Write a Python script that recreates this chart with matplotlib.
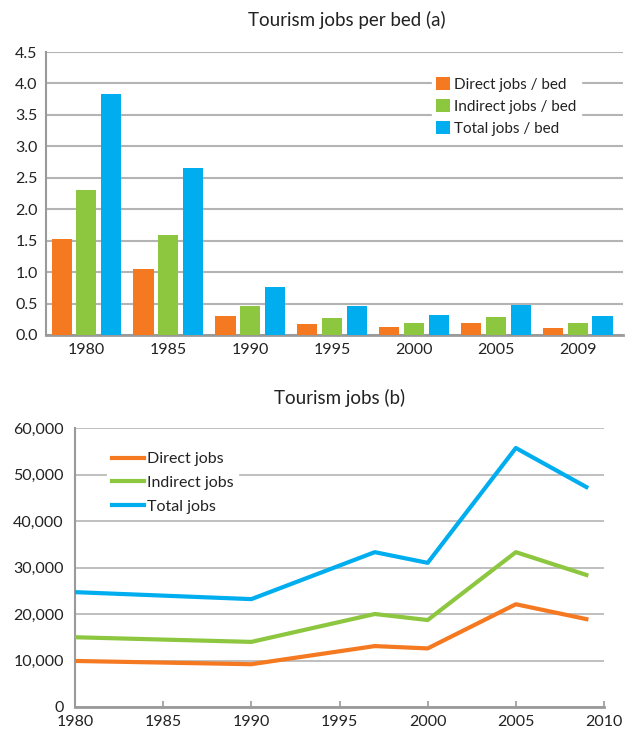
import matplotlib.pyplot as plt
import numpy as np

plt.rcParams['font.family'] = ['Lato', 'DejaVu Sans']

# ___data___
bar_years = ['1980', '1985', '1990', '1995', '2000', '2005', '2009']
direct_per_bed = [1.53, 1.05, 0.30, 0.17, 0.13, 0.19, 0.11]
indirect_per_bed = [2.31, 1.59, 0.46, 0.27, 0.19, 0.29, 0.19]
total_per_bed = [3.83, 2.65, 0.76, 0.46, 0.32, 0.48, 0.30]

line_years = [1980, 1990, 1997, 2000, 2005, 2009]
direct_jobs = [9900, 9200, 13100, 12600, 22100, 18900]
indirect_jobs = [15000, 14000, 20000, 18700, 33300, 28400]
total_jobs = [24700, 23200, 33300, 31000, 55700, 47300]

orange = '#F47920'
green = '#8DC63F'
blue = '#00AEEF'
grid_col = '#b4b4b4'
axis_col = '#9a9a9a'
text_col = '#222222'

fig = plt.figure(figsize=(6.35, 7.34), dpi=100)

# ___chart (a)___
ax1 = fig.add_axes([46/635, 1-335/734, 577/635, 283/734])
x = np.arange(len(bar_years))
w = 0.245
pitch = 0.3
ax1.bar(x - pitch, direct_per_bed, w, color=orange, label='Direct jobs / bed', zorder=3)
ax1.bar(x, indirect_per_bed, w, color=green, label='Indirect jobs / bed', zorder=3)
ax1.bar(x + pitch, total_per_bed, w, color=blue, label='Total jobs / bed', zorder=3)
ax1.set_xlim(-0.49, 6.55)
ax1.set_ylim(0, 4.5)
ax1.set_yticks(np.arange(0, 4.51, 0.5))
ax1.set_yticklabels(['%.1f' % v for v in np.arange(0, 4.51, 0.5)])
ax1.set_xticks(x)
ax1.set_xticklabels(bar_years)
ax1.yaxis.grid(True, color=grid_col, linewidth=1.5, zorder=0)
ax1.set_axisbelow(True)
for s in ['top', 'right']:
    ax1.spines[s].set_visible(False)
ax1.spines['left'].set_color(axis_col)
ax1.spines['left'].set_linewidth(1.5)
ax1.spines['bottom'].set_color(axis_col)
ax1.spines['bottom'].set_linewidth(2)
ax1.tick_params(axis='both', length=0, labelsize=11.5, colors=text_col, pad=6)
leg1 = ax1.legend(loc='upper left', bbox_to_anchor=(0.655, 0.955), frameon=True,
                  fontsize=11, handlelength=0.9, handleheight=0.9,
                  handletextpad=0.3, labelspacing=0.5, borderpad=0.3)
leg1.get_frame().set_facecolor('white')
leg1.get_frame().set_edgecolor('white')
leg1.get_frame().set_alpha(1)
for t in leg1.get_texts():
    t.set_color(text_col)
fig.text(347/635, 1-20/734, 'Tourism jobs per bed (a)', ha='center', va='center',
         fontsize=13.5, color=text_col)

# ___chart (b)___
ax2 = fig.add_axes([75/635, 1-707/734, 529/635, 279/734])
ax2.plot(line_years, direct_jobs, color=orange, linewidth=3, label='Direct jobs', zorder=3)
ax2.plot(line_years, indirect_jobs, color=green, linewidth=3, label='Indirect jobs', zorder=3)
ax2.plot(line_years, total_jobs, color=blue, linewidth=3, label='Total jobs', zorder=3)
ax2.set_xlim(1980, 2010)
ax2.set_ylim(0, 60000)
ax2.set_xticks(range(1980, 2011, 5))
ax2.set_yticks(range(0, 60001, 10000))
ax2.set_yticklabels(['{:,}'.format(v) for v in range(0, 60001, 10000)])
ax2.yaxis.grid(True, color=grid_col, linewidth=1.2, zorder=0)
ax2.set_axisbelow(True)
for s in ['top', 'right']:
    ax2.spines[s].set_visible(False)
ax2.spines['left'].set_color(axis_col)
ax2.spines['left'].set_linewidth(1.5)
ax2.spines['bottom'].set_color(axis_col)
ax2.spines['bottom'].set_linewidth(2)
ax2.tick_params(axis='y', length=0, labelsize=11.5, colors=text_col, pad=8)
ax2.tick_params(axis='x', direction='in', length=4, width=1.2, color=axis_col,
                labelsize=11.5, labelcolor=text_col, pad=6)
leg2 = ax2.legend(loc='upper left', bbox_to_anchor=(0.045, 0.96), frameon=True,
                  fontsize=11.5, handlelength=2.0, handletextpad=0.2,
                  labelspacing=0.6, borderpad=0.3)
leg2.get_frame().set_facecolor('white')
leg2.get_frame().set_edgecolor('white')
leg2.get_frame().set_alpha(1)
for t in leg2.get_texts():
    t.set_color(text_col)
fig.text(340/635, 1-398/734, 'Tourism jobs (b)', ha='center', va='center',
         fontsize=13.5, color=text_col)

fig.savefig('out.png', dpi=100)
